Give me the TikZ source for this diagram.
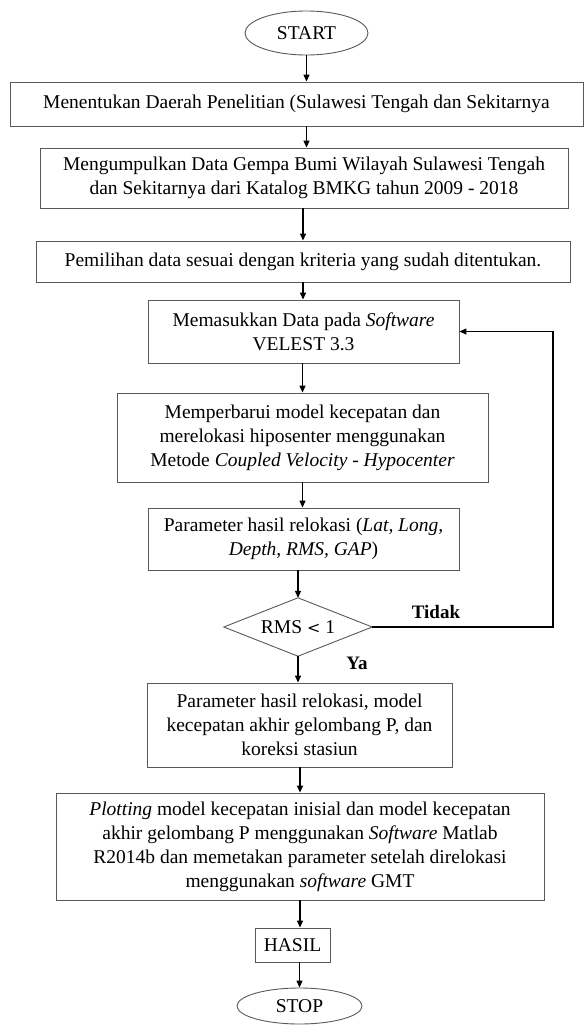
\documentclass[tikz,border=0pt]{standalone}
\usepackage{fontspec}
\setmainfont{Liberation Serif}
\usetikzlibrary{shapes.geometric,arrows.meta}
\begin{document}
\begin{tikzpicture}[x=1pt,y=-1pt,
  every node/.style={font=\fontsize{19.5}{24}\selectfont, inner sep=0pt},
  procbox/.style={draw=black!65, line width=0.9pt, rectangle, align=center},
  term/.style={draw=black!65, line width=0.9pt, ellipse, align=center},
  outline/.style={draw=black!65, line width=0.9pt},
  arr/.style={draw=black, line width=1.3pt, -{Triangle[length=7pt,width=6pt]}},
  lbl/.style={font=\fontsize{19}{24}\selectfont\bfseries}]
\useasboundingbox (0,0) rectangle (584,1026);
\node[term, minimum width=123pt, minimum height=44pt] (start) at (306.5,33) {START};
\node[procbox, minimum width=573pt, minimum height=44pt] (b1) at (296.5,104)
  {Menentukan Daerah Penelitian (Sulawesi Tengah dan Sekitarnya};
\node[procbox, minimum width=528pt, minimum height=60pt] (b2) at (304,178)
  {Mengumpulkan Data Gempa Bumi Wilayah Sulawesi Tengah\\dan Sekitarnya dari Katalog BMKG tahun 2009 - 2018};
\node[procbox, minimum width=534pt, minimum height=41pt] (b3) at (303,261.5)
  {Pemilihan data sesuai dengan kriteria yang sudah ditentukan.};
\node[procbox, minimum width=311pt, minimum height=63pt] (b4) at (303.5,331.5)
  {Memasukkan Data pada \textit{Software}\\VELEST 3.3};
\node[procbox, minimum width=371pt, minimum height=89pt] (b5) at (302.5,437.5)
  {Memperbarui model kecepatan dan\\merelokasi hiposenter menggunakan\\Metode \textit{Coupled Velocity - Hypocenter}};
\node[procbox, minimum width=311pt, minimum height=62pt] (b6) at (303.5,539)
  {Parameter hasil relokasi (\textit{Lat, Long,}\\\textit{Depth, RMS, GAP})};
\node[rectangle, minimum width=148pt, minimum height=58pt] (dia) at (298,627) {RMS {\fontspec{DejaVu Serif}\fontsize{16}{24}\selectfont<} 1};
\draw[outline] (dia.north) -- (dia.east) -- (dia.south) -- (dia.west) -- cycle;
\node[procbox, minimum width=305pt, minimum height=84pt] (b7) at (299.5,725)
  {Parameter hasil relokasi, model\\kecepatan akhir gelombang P, dan\\koreksi stasiun};
\node[procbox, minimum width=488pt, minimum height=107pt] (b8) at (300,846.5)
  {\textit{Plotting} model kecepatan inisial dan model kecepatan\\akhir gelombang P menggunakan \textit{Software} Matlab\\R2014b dan memetakan parameter setelah direlokasi\\menggunakan \textit{software} GMT};
\node[procbox, minimum width=75pt, minimum height=34pt] (hasil) at (292.5,945) {HASIL};
\node[term, minimum width=125pt, minimum height=36pt] (stop) at (299.5,1006) {STOP};
\node[lbl] (tidak) at (436,612) {Tidak};
\node[lbl] (ya) at (357,663) {Ya};
\coordinate (loop) at (553,627);
\draw[arr] (start.south) -- (start.south |- b1.north);
\draw[arr] (b1.south -| start) -- (b2.north -| start);
\draw[arr] (b2.south -| b3) -- (b3.north);
\draw[arr] (b3.south) -- (b4.north -| b3);
\draw[arr] (b4.south -| b5) -- (b5.north);
\draw[arr] (b5.south) -- (b6.north -| b5);
\draw[arr] (b6.south -| dia) -- (dia.north);
\draw[arr] (dia.south) -- (b7.north -| dia);
\draw[arr] (b7.south -| b8) -- (b8.north);
\draw[arr] (b8.south) -- (hasil.north -| b8);
\draw[arr] (hasil.south -| stop) -- (stop.north);
\draw[arr] (dia.east) -- (loop) |- (b4.east);
\end{tikzpicture}
\end{document}
